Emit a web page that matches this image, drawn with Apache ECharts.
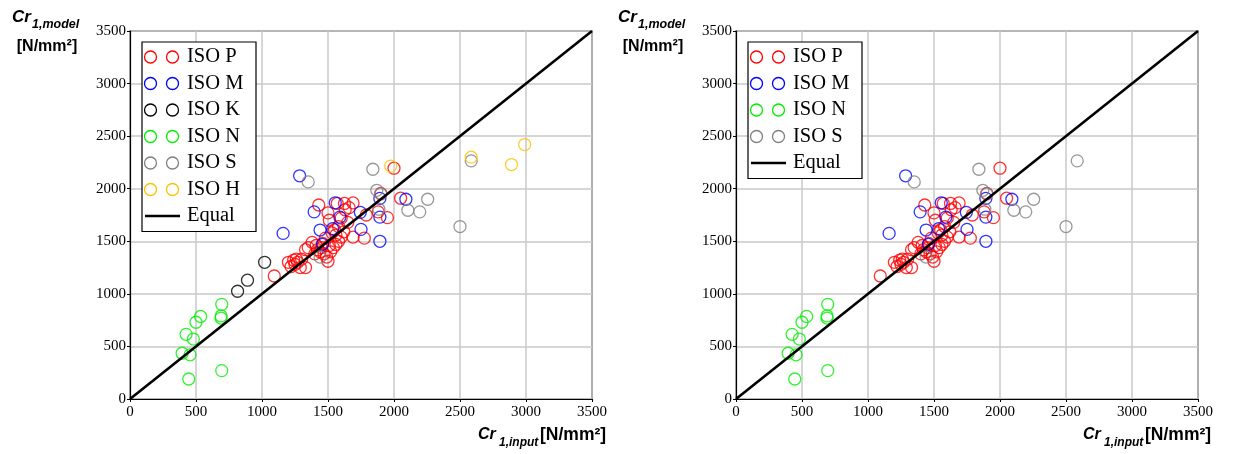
<!DOCTYPE html>
<html><head><meta charset="utf-8">
<script src="https://cdn.jsdelivr.net/npm/echarts@6/dist/echarts.min.js"></script>
<style>html,body{margin:0;padding:0;background:#fff}#c{width:1235px;height:454px}</style>
</head><body><div id="c"></div>
<script>
// ---- data (Cr1,input, Cr1,model) in N/mm2 ----
const axisTicks = [0, 500, 1000, 1500, 2000, 2500, 3000, 3500];
const isoP = [
  [1093,1170],
  [1200,1300],[1220,1260],[1240,1320],[1250,1280],[1270,1300],[1290,1250],[1300,1330],[1330,1250],[1260,1330],
  [1330,1420],[1350,1440],[1380,1490],[1400,1380],[1420,1420],[1450,1440],[1470,1380],[1490,1350],[1500,1310],
  [1520,1400],[1540,1440],[1560,1470],[1580,1500],[1600,1540],[1620,1590],[1460,1480],[1510,1460],[1440,1400],
  [1410,1460],[1480,1530],
  [1430,1845],[1500,1770],[1510,1700],[1550,1610],[1570,1860],[1600,1720],[1625,1860],[1630,1800],[1660,1820],
  [1690,1865],[1690,1540],[1775,1530],[1790,1750],[1580,1640],[1650,1680],[1560,1560],[1530,1580],
  [1880,1780],[1900,1955],[1950,1725],[2000,2195],[2050,1910]
];
const isoM = [
  [1160,1575],[1285,2123],[1395,1780],[1440,1607],[1458,1471],[1535,1620],[1555,1866],[1590,1730],
  [1745,1775],[1750,1613],[1893,1908],[1893,1730],[1893,1500],[2090,1900]
];
const isoK = [[1020,1300],[890,1130],[815,1025]];
const isoN = [
  [695,900],[690,790],[690,770],[535,785],[500,730],[425,615],[480,570],[395,435],[455,420],[695,270],[445,190]
];
const isoS = [
  [1350,2065],[1840,2185],[1870,1985],[1885,1805],[2105,1795],[2195,1780],[2255,1900],[2500,1640],[2585,2265],
  [1440,1350],[1900,1950]
];
const isoH = [[1975,2215],[2585,2300],[2890,2230],[2990,2420]];
const equalLine = [[0,0],[3500,3500]];

const legendLeft = ['ISO P','ISO M','ISO K','ISO N','ISO S','ISO H','Equal'];
const legendRight = ['ISO P','ISO M','ISO N','ISO S','Equal'];

// ---- styling ----
const COLORS = {'ISO P':'#ff0000','ISO M':'#0000ff','ISO K':'#000000','ISO N':'#00ee00','ISO S':'#808080','ISO H':'#ffc000'};
const SERIF = '"Liberation Serif","Times New Roman",serif';
const SANS = '"Liberation Sans",Arial,sans-serif';

function xAxis(gi){
  return {type:'value', gridIndex:gi, min:0, max:3500, interval:500,
    splitLine:{show:true, lineStyle:{color:'#c8c8c8', width:1.5}},
    axisLine:{show:true, onZero:false, lineStyle:{color:'#000', width:1.2}},
    axisTick:{show:true, length:3, lineStyle:{color:'#000'}},
    axisLabel:{fontFamily:SERIF, fontSize:15, color:'#000', margin:6,
      formatter:v=>axisTicks.includes(v)?String(v):''}};
}
function yAxis(gi){
  return {type:'value', gridIndex:gi, min:0, max:3500, interval:500,
    splitLine:{show:true, lineStyle:{color:'#c8c8c8', width:1.5}},
    axisLine:{show:true, onZero:false, lineStyle:{color:'#000', width:1.2}},
    axisTick:{show:true, length:3, lineStyle:{color:'#000'}},
    axisLabel:{fontFamily:SERIF, fontSize:15, color:'#000', margin:4,
      formatter:v=>axisTicks.includes(v)?String(v):''}};
}
function scatter(name, data, gi){
  return {type:'scatter', name, data, xAxisIndex:gi, yAxisIndex:gi,
    symbol:'circle', symbolSize:12, silent:true,
    itemStyle:{color:'rgba(0,0,0,0)', borderColor:COLORS[name], borderWidth:1.3}};
}
function eq(gi){
  return {type:'line', name:'Equal', data:equalLine, xAxisIndex:gi, yAxisIndex:gi,
    symbol:'none', silent:true, z:5, lineStyle:{color:'#000', width:2.6}};
}
function legendGraphic(items, bx, by, bw){
  const g = [];
  const rowH = 26.5, top = by + 15;
  const bh = items.length*rowH + 4;
  g.push({type:'rect', shape:{x:bx, y:by, width:bw, height:bh},
    style:{fill:'#fff', stroke:'#000', lineWidth:1.2}, z:10});
  items.forEach((n,i)=>{
    const cy = top + i*rowH;
    if(n==='Equal'){
      g.push({type:'line', shape:{x1:bx+3, y1:cy, x2:bx+38, y2:cy}, style:{stroke:'#000', lineWidth:2.6}, z:11});
    } else {
      [bx+8.5, bx+30.5].forEach(cx=>g.push({type:'circle', shape:{cx, cy, r:6},
        style:{fill:'none', stroke:COLORS[n], lineWidth:1.3}, z:11}));
    }
    g.push({type:'text', x:bx+45, y:cy, z:11,
      style:{text:n, fontFamily:SERIF, fontSize:20.5, fill:'#000', verticalAlign:'middle', align:'left'}});
  });
  return g;
}
function yName(x){
  return [
    {type:'text', x:x, y:17, style:{text:'Cr', font:'italic bold 17px '+SANS, fill:'#000', verticalAlign:'middle'}},
    {type:'text', x:x+20, y:25, style:{text:'1,model', font:'italic bold 12.5px '+SANS, fill:'#000', verticalAlign:'middle'}},
    {type:'text', x:x+35, y:47, style:{text:'[N/mm²]', font:'bold 16px '+SANS, fill:'#000', verticalAlign:'middle', align:'center'}}
  ];
}
function xName(x){
  return [
    {type:'text', x:x, y:435, style:{text:'Cr', font:'italic bold 16px '+SANS, fill:'#000', verticalAlign:'middle'}},
    {type:'text', x:x+21, y:443, style:{text:'1,input', font:'italic bold 12px '+SANS, fill:'#000', verticalAlign:'middle'}},
    {type:'text', x:x+62, y:435, style:{text:'[N/mm²]', font:'bold 17.5px '+SANS, fill:'#000', verticalAlign:'middle'}}
  ];
}

const chart = echarts.init(document.getElementById('c'), null, {renderer:'canvas'});
chart.setOption({
  animation:false,
  backgroundColor:'#fff',
  grid:[
    {left:130, top:31, width:462, height:368, show:true, borderColor:'#000', borderWidth:1.2, backgroundColor:'transparent'},
    {left:736, top:31, width:462, height:368, show:true, borderColor:'#000', borderWidth:1.2, backgroundColor:'transparent'}
  ],
  xAxis:[xAxis(0), xAxis(1)],
  yAxis:[yAxis(0), yAxis(1)],
  series:[
    scatter('ISO P', isoP, 0), scatter('ISO M', isoM, 0), scatter('ISO K', isoK, 0),
    scatter('ISO N', isoN, 0), scatter('ISO S', isoS, 0), scatter('ISO H', isoH, 0), eq(0),
    scatter('ISO P', isoP, 1), scatter('ISO M', isoM, 1),
    scatter('ISO N', isoN, 1), scatter('ISO S', isoS, 1), eq(1)
  ],
  graphic:[
    ...legendGraphic(legendLeft, 142, 42, 114),
    ...legendGraphic(legendRight, 748, 42, 114),
    ...yName(12), ...yName(618),
    ...xName(478), ...xName(1083)
  ]
});
</script></body></html>
